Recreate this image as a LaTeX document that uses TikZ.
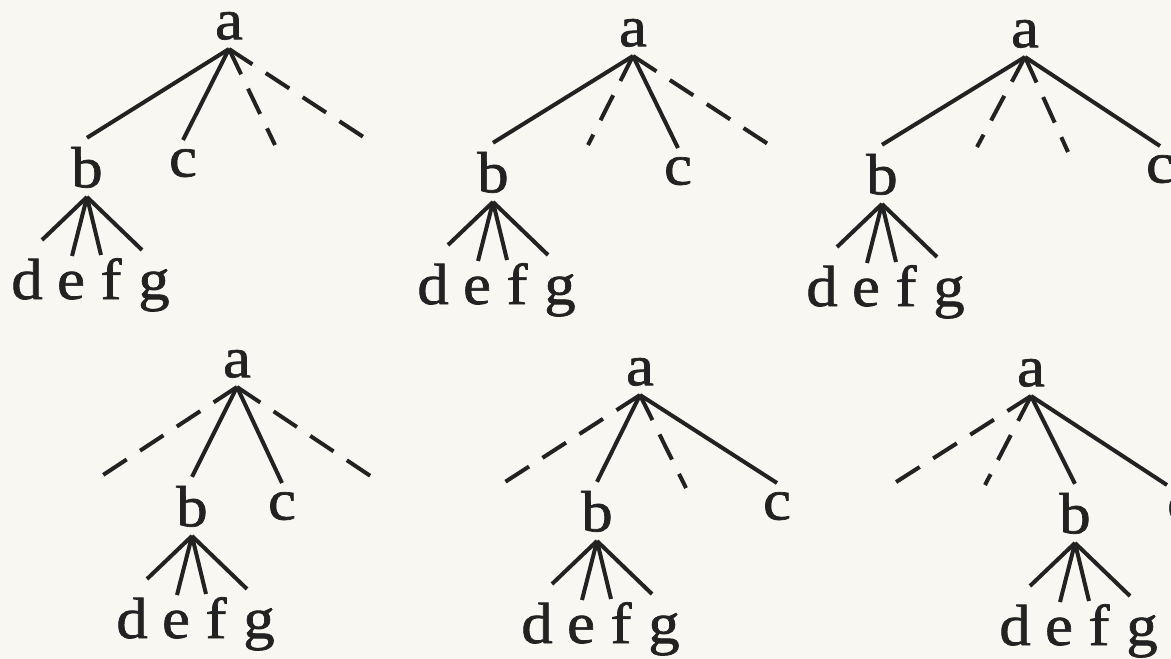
\documentclass[tikz,border=0pt]{standalone}
\usepackage{fontspec}
\setmainfont{Liberation Serif}
\newfontfamily\treefont[FakeBold=1.2, FakeStretch=1.08]{Liberation Serif}
\definecolor{ink}{HTML}{222222}
\definecolor{paper}{HTML}{F8F7F2}
\tikzset{
  lbl/.style={font=\treefont\fontsize{58}{60}\selectfont, text=ink, inner xsep=0pt, inner ysep=9pt},
  edge/.style={draw=ink, line width=4pt},
  gap/.style={edge, dash pattern=on 28pt off 16pt},
}
\begin{document}
\begin{tikzpicture}[x=1pt, y=-1pt]
  \fill[paper] (0,0) rectangle (1171,659);
  \useasboundingbox (0,0) rectangle (1171,659);
  \clip (0,0) rectangle (1171,659);

  % roots
  \foreach \t/\x/\y in {1/229/49, 2/633/56, 3/1025/57, 4/237/387, 5/640/395, 6/1031/396}
    \node[lbl, anchor=south] (a\t) at (\x,\y) {a};

  % b with its four leaves
  \foreach \t/\x/\y in {1/87/197, 2/493/202, 3/882/204, 4/192/536, 5/597/541, 6/1075/543}{
    \node[lbl, anchor=south] (b\t) at (\x,\y) {b};
    \foreach \l/\dx/\ex/\ey in {d/-60/-45/43, e/-16/-15/59, f/24/14/58, g/67/55/53}{
      \node[lbl, anchor=base] (\l\t) at ([shift={(\dx,102)}]b\t.south) {\l};
      \coordinate (\l\t-in) at ([shift={(\ex,\ey)}]b\t.south);
      \draw[edge] (b\t.south) -- (\l\t-in);
    }
  }

  % c nodes
  \node[lbl, anchor=north] (c1) at (183,140) {c};
  \node[lbl, anchor=north] (c2) at (678,148) {c};
  \node[lbl, anchor=north] (c3) at (1160,146) {c};
  \node[lbl, anchor=north] (c4) at (282,483) {c};
  \node[lbl, anchor=north] (c5) at (777,483) {c};
  \node[lbl, anchor=north west] (c6) at (1167,485) {c};

  % open ends of the dashed branches
  \coordinate (u1) at (275,145);  \coordinate (v1) at (365,138);
  \coordinate (u2) at (588,145);  \coordinate (v2) at (768,144);
  \coordinate (u3) at (977,147);  \coordinate (v3) at (1068,152);
  \coordinate (u4) at (100,477);  \coordinate (v4) at (372,477);
  \coordinate (u5) at (505,482);  \coordinate (v5) at (686,488);
  \coordinate (u6) at (893,484);  \coordinate (v6) at (985,485);

  \foreach \t in {1,...,5}{
    \draw[edge] (a\t.south) -- (b\t.north);
    \draw[edge] (a\t.south) -- (c\t.north);
  }
  \draw[edge] (a6.south) -- (b6.north);
  \draw[edge] (a6.south) -- (c6.north west);
  \foreach \t in {1,...,6}{
    \draw[gap] (a\t.south) -- (u\t);
    \draw[gap] (a\t.south) -- (v\t);
  }
\end{tikzpicture}
\end{document}
